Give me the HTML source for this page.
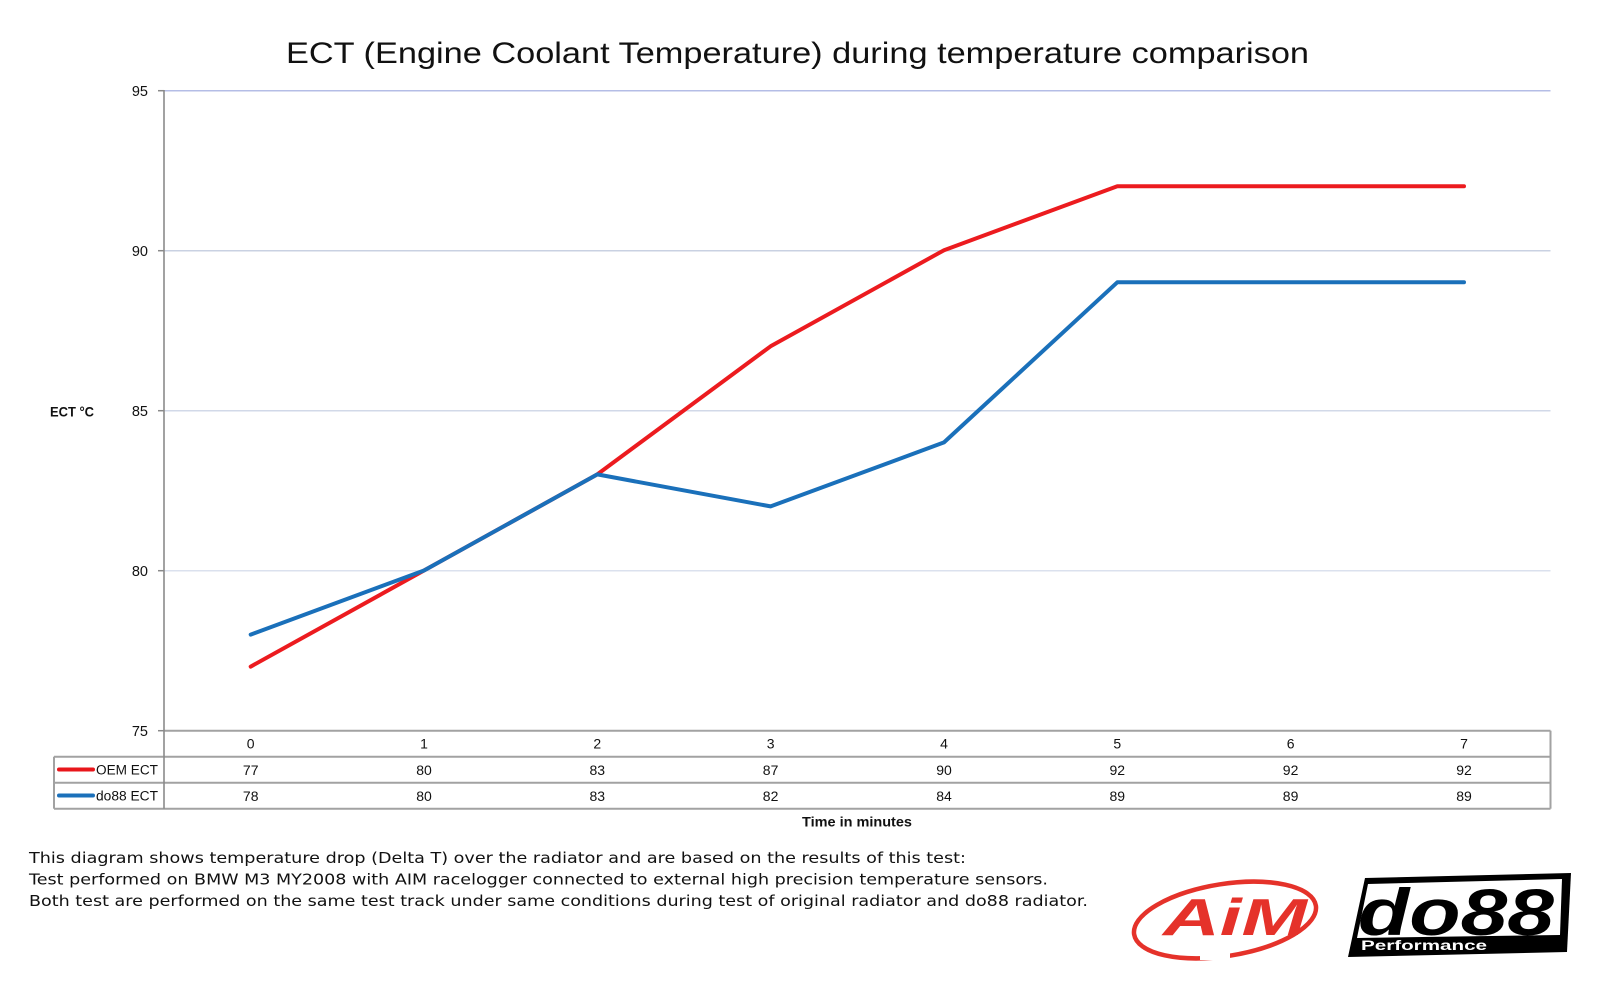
<!DOCTYPE html>
<html><head><meta charset="utf-8"><style>
html,body{margin:0;padding:0;background:#fff;}
svg{display:block;}
</style></head><body>
<svg width="1600" height="981" viewBox="0 0 1600 981" xmlns="http://www.w3.org/2000/svg">
<rect width="1600" height="981" fill="#fff"/>
<!-- title -->
<text x="286" y="63" font-family="Liberation Sans, sans-serif" font-size="30" fill="#111" textLength="1023" lengthAdjust="spacingAndGlyphs">ECT (Engine Coolant Temperature) during temperature comparison</text>

<!-- gridlines -->
<line x1="164" y1="90.7" x2="1550.5" y2="90.7" stroke="#b4bde6" stroke-width="1.5"/>
<line x1="164" y1="250.7" x2="1550.5" y2="250.7" stroke="#c9d1e2" stroke-width="1.5"/>
<line x1="164" y1="410.7" x2="1550.5" y2="410.7" stroke="#d2d9e8" stroke-width="1.5"/>
<line x1="164" y1="570.7" x2="1550.5" y2="570.7" stroke="#dbe1ee" stroke-width="1.5"/>

<!-- ticks -->
<g stroke="#8a8a8a" stroke-width="1.5">
<line x1="158" y1="90.7" x2="164" y2="90.7"/>
<line x1="158" y1="250.7" x2="164" y2="250.7"/>
<line x1="158" y1="410.7" x2="164" y2="410.7"/>
<line x1="158" y1="570.7" x2="164" y2="570.7"/>
<line x1="158" y1="730.7" x2="164" y2="730.7"/>
</g>

<!-- y labels -->
<g font-family="Liberation Sans, sans-serif" font-size="14.5" fill="#111" text-anchor="end">
<text x="148" y="96">95</text>
<text x="148" y="256">90</text>
<text x="148" y="416">85</text>
<text x="148" y="576">80</text>
<text x="148" y="736">75</text>
</g>
<text x="50" y="416.5" font-family="Liberation Sans, sans-serif" font-size="13.5" font-weight="bold" fill="#111" textLength="44" lengthAdjust="spacingAndGlyphs">ECT °C</text>

<!-- table -->
<g stroke="#a2a2a2" stroke-width="2" fill="none">
<line x1="164" y1="730.7" x2="1550.5" y2="730.7"/>
<line x1="54" y1="756.7" x2="1550.5" y2="756.7"/>
<line x1="54" y1="782.7" x2="1550.5" y2="782.7"/>
<line x1="54" y1="808.7" x2="1550.5" y2="808.7"/>
<line x1="54" y1="756.7" x2="54" y2="808.7"/>
<line x1="1550.5" y1="730.7" x2="1550.5" y2="808.7"/>
</g>
<line x1="164" y1="90" x2="164" y2="808.7" stroke="#8a8a8a" stroke-width="1.6"/>

<g font-family="Liberation Sans, sans-serif" font-size="14" fill="#111" text-anchor="middle">
<text x="250.7" y="748.5">0</text><text x="424" y="748.5">1</text><text x="597.3" y="748.5">2</text><text x="770.6" y="748.5">3</text><text x="944" y="748.5">4</text><text x="1117.3" y="748.5">5</text><text x="1290.6" y="748.5">6</text><text x="1464" y="748.5">7</text>
<text x="250.7" y="775">77</text><text x="424" y="775">80</text><text x="597.3" y="775">83</text><text x="770.6" y="775">87</text><text x="944" y="775">90</text><text x="1117.3" y="775">92</text><text x="1290.6" y="775">92</text><text x="1464" y="775">92</text>
<text x="250.7" y="801">78</text><text x="424" y="801">80</text><text x="597.3" y="801">83</text><text x="770.6" y="801">82</text><text x="944" y="801">84</text><text x="1117.3" y="801">89</text><text x="1290.6" y="801">89</text><text x="1464" y="801">89</text>
</g>
<line x1="59" y1="769.5" x2="93" y2="769.5" stroke="#e8161b" stroke-width="4" stroke-linecap="round"/>
<line x1="59" y1="795.5" x2="93" y2="795.5" stroke="#1b70ba" stroke-width="4" stroke-linecap="round"/>
<g font-family="Liberation Sans, sans-serif" font-size="13.5" fill="#111">
<text x="96" y="774.5" textLength="62" lengthAdjust="spacingAndGlyphs">OEM ECT</text>
<text x="96" y="800.5" textLength="62" lengthAdjust="spacingAndGlyphs">do88 ECT</text>
</g>
<text x="857" y="826.5" font-family="Liberation Sans, sans-serif" font-size="14" font-weight="bold" fill="#111" text-anchor="middle" textLength="110" lengthAdjust="spacingAndGlyphs">Time in minutes</text>

<!-- series -->
<polyline fill="none" stroke="#ec1b1f" stroke-width="4" stroke-linejoin="round" stroke-linecap="round"
 points="250.7,666.6 424,570.5 597.3,474.4 770.6,346.3 944,250.2 1117.3,186.2 1290.6,186.2 1464,186.2"/>
<polyline fill="none" stroke="#1a70ba" stroke-width="4" stroke-linejoin="round" stroke-linecap="round"
 points="250.7,634.6 424,570.5 597.3,474.4 770.6,506.4 944,442.4 1117.3,282.3 1290.6,282.3 1464,282.3"/>

<!-- footer text -->
<g font-family="DejaVu Sans, Verdana, sans-serif" font-size="15" fill="#111">
<text x="29" y="863" textLength="937" lengthAdjust="spacingAndGlyphs">This diagram shows temperature drop (Delta T) over the radiator and are based on the results of this test:</text>
<text x="29" y="884.5" textLength="1019" lengthAdjust="spacingAndGlyphs">Test performed on BMW M3 MY2008 with AIM racelogger connected to external high precision temperature sensors.</text>
<text x="29" y="906" textLength="1059" lengthAdjust="spacingAndGlyphs">Both test are performed on the same test track under same conditions during test of original radiator and do88 radiator.</text>
</g>

<!-- AiM logo -->
<g>
<ellipse cx="1225" cy="920" rx="92" ry="36" transform="rotate(-9 1225 920)" fill="none" stroke="#e5322a" stroke-width="4.5"/>
<rect x="1200" y="952" width="30" height="8" fill="#fff"/>
<text x="1163" y="935" font-family="Liberation Sans, sans-serif" font-size="52" font-weight="bold" font-style="italic" fill="#e5322a" textLength="144" lengthAdjust="spacingAndGlyphs">AiM</text>
</g>

<!-- do88 logo -->
<g>
<polygon points="1365,878 1571,873 1567,952 1348,957" fill="#000"/>
<polygon points="1368,884 1562,879 1560,935 1357,938" fill="#fff"/>
<text x="1358" y="935" font-family="Liberation Sans, sans-serif" font-size="66" font-weight="900" font-style="italic" fill="#000" textLength="196" lengthAdjust="spacingAndGlyphs">do88</text>
<text x="1361" y="950" font-family="Liberation Sans, sans-serif" font-size="13.5" font-weight="bold" fill="#fff" textLength="126" lengthAdjust="spacingAndGlyphs">Performance</text>
</g>
</svg>
</body></html>
